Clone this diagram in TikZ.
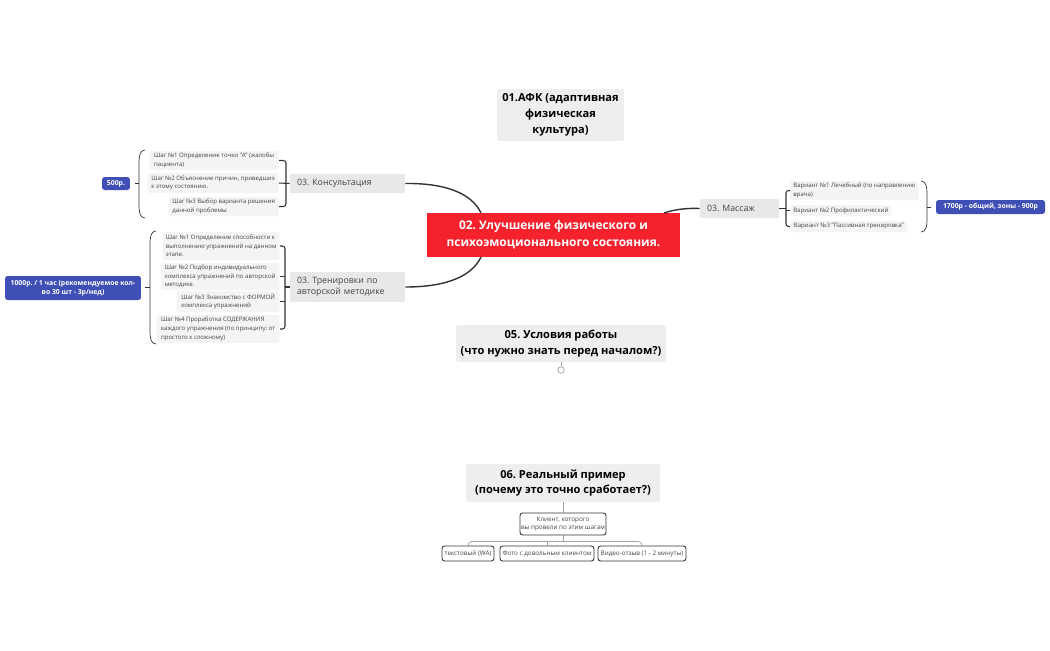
\documentclass[tikz,border=0pt]{standalone}
\usepackage{fontspec}
\setmainfont{Open Sans}
\frenchspacing
\definecolor{topicgray}{HTML}{EEEEEE}
\definecolor{branchgray}{HTML}{E8E8E8}
\definecolor{itemgray}{HTML}{F4F4F4}
\definecolor{mainred}{HTML}{F5222D}
\definecolor{priceblue}{HTML}{3F4FB5}
\definecolor{linedark}{HTML}{333333}
\definecolor{linegray}{HTML}{A0A0A0}
\definecolor{textgray}{HTML}{444444}
\tikzset{
  topic/.style={fill=topicgray, rounded corners=1pt, align=center, inner sep=0pt,
    font=\bfseries\fontsize{6.3}{9}\selectfont},
  central/.style={fill=mainred, text=white, align=center, inner sep=0pt,
    font=\bfseries\fontsize{6.8}{9.6}\selectfont},
  branch/.style={fill=branchgray, align=left, inner xsep=0.14cm, inner ysep=0pt,
    text=textgray, font=\fontsize{5}{6.2}\selectfont},
  stepitem/.style={fill=itemgray, rounded corners=1pt, align=left, inner xsep=0.05cm,
    inner ysep=0pt, text=textgray, font=\fontsize{3.45}{4.9}\selectfont},
  price/.style={fill=priceblue, text=white, rounded corners=1.5pt, align=center,
    inner sep=0pt, font=\bfseries\fontsize{3.9}{5.1}\selectfont},
  leaf/.style={draw=linedark, fill=white, rounded corners=1.5pt, align=center,
    inner sep=0pt, line width=0.5pt, text=textgray, font=\fontsize{3.6}{5}\selectfont},
  link/.style={draw=linedark, line width=0.8pt},
  bracket/.style={draw=linedark, line width=0.6pt, rounded corners=1.5pt},
  brace/.style={draw=linedark, line width=0.4pt},
  thin/.style={draw=linegray, line width=0.4pt, rounded corners=2pt}
}
\begin{document}
\begin{tikzpicture}[x=0.02cm,y=-0.02cm]
    \useasboundingbox (0,0) rectangle (1050,650);

    % Topics
    \node[topic, minimum width=2.54cm, minimum height=1.04cm] (afk) at (560.5,115)
        {01.АФК (адаптивная\\физическая\\культура)};
    \node[central, minimum width=5.06cm, minimum height=0.88cm] (main) at (553.5,235)
        {02. Улучшение физического и\\психоэмоционального состояния.};
    \node[topic, minimum width=4.2cm, minimum height=0.74cm] (usl) at (561,343.5)
        {05. Условия работы\\(что нужно знать перед началом?)};
    \node[topic, minimum width=3.88cm, minimum height=0.76cm] (real) at (563,483)
        {06. Реальный пример\\(почему это точно сработает?)};

    % Collapse mark
    \node[circle, draw=linegray, line width=0.4pt, minimum size=0.13cm, inner sep=0pt] (fold) at (561,370) {};
    \draw[thin] (usl.south) -- (fold.north);

    % Branches
    \node[branch, text width=2.02cm, minimum height=0.38cm] (kons) at (347.5,183.5)
        {03. Консультация};
    \node[branch, text width=2.02cm, minimum height=0.60cm] (trening) at (347.5,287)
        {03. Тренировки по\\авторской методике};
    \node[branch, text width=1.30cm, minimum height=0.38cm] (massage) at (739.5,208.5)
        {03. Массаж};

    \coordinate (mtop) at (481,213);
    \coordinate (mbot) at (481,257);
    \coordinate (mright) at (664,213);
    \draw[link] (kons.east) .. controls (447,183) and (472,194) .. (mtop);
    \draw[link] (trening.east) .. controls (447,287) and (472,276) .. (mbot);
    \draw[link] (mright) .. controls (676,209) and (688,208) .. (massage.west);

    % Consultation steps
    \node[stepitem, anchor=east, minimum width=2.58cm, minimum height=0.38cm] (k1) at (279,160.5)
        {Шаг №1 Определение точки "А" (жалобы\\пациента)};
    \node[stepitem, anchor=east, minimum width=2.62cm, minimum height=0.40cm] (k2) at (279,183)
        {Шаг №2 Объяснение причин, приведших\\к этому состоянию.};
    \node[stepitem, anchor=east, minimum width=2.20cm, minimum height=0.38cm] (k3) at (279,206.5)
        {Шаг №3 Выбор варианта решения\\данной проблемы};
    \coordinate (kjoin) at (286,183);
    \draw[bracket] (k1.east) -| (kjoin) |- (k3.east);
    \draw[bracket] (k2.east) -- (kons.west);

    \node[price, minimum width=0.56cm, minimum height=0.26cm] (p500) at (116,183.5) {500р.};
    \coordinate (kbrace) at (135,183);
    \draw[brace] (145,150) to[out=180,in=90] (139,162) -- (139,205) to[out=-90,in=180] (145,218);
    \draw[brace] (139,183) -- (kbrace);

    % Training steps
    \node[stepitem, anchor=east, minimum width=2.34cm, minimum height=0.56cm] (t1) at (280,246)
        {Шаг №1 Определение способности к\\выполнению упражнений на данном\\этапе.};
    \node[stepitem, anchor=east, minimum width=2.38cm, minimum height=0.54cm] (t2) at (280,276.5)
        {Шаг №2 Подбор индивидуального\\комплекса упражнений по авторской\\методике.};
    \node[stepitem, anchor=east, minimum width=2.06cm, minimum height=0.42cm] (t3) at (280,301.5)
        {Шаг №3 Знакомство с ФОРМОЙ\\комплекса упражнений};
    \node[stepitem, anchor=east, minimum width=2.46cm, minimum height=0.56cm] (t4) at (280,329)
        {Шаг №4 Проработка СОДЕРЖАНИЯ\\каждого упражнения (по принципу: от\\простого к сложному)};
    \coordinate (tjoin) at (285,287);
    \draw[bracket] (t1.east) -| (tjoin) |- (t4.east);
    \draw[bracket] (t2.east) -- (t2.east -| tjoin);
    \draw[bracket] (t3.east) -- (t3.east -| tjoin);
    \draw[bracket] (tjoin) -- (trening.west);

    \node[price, minimum width=2.72cm, minimum height=0.48cm] (p1000) at (73,288)
        {1000р. / 1 час (рекомендуемое кол-\\во 30 шт - 3р/нед)};
    \coordinate (tbrace) at (145,287);
    \draw[brace] (156,231) to[out=180,in=90] (150,243) -- (150,332) to[out=-90,in=180] (156,344);
    \draw[brace] (150,287) -- (tbrace);

    % Massage variants
    \node[stepitem, anchor=west, minimum width=2.56cm, minimum height=0.38cm] (m1) at (790,190.5)
        {Вариант №1 Лечебный (по направлению\\врача)};
    \node[stepitem, anchor=west, minimum width=2.02cm, minimum height=0.22cm] (m2) at (790,210.5)
        {Вариант №2 Профилактический};
    \node[stepitem, anchor=west, minimum width=2.34cm, minimum height=0.22cm] (m3) at (790,226.5)
        {Вариант №3 "Пассивная тренировка"};
    \coordinate (mjoin) at (786,208.5);
    \draw[bracket] (m1.west) -| (mjoin) |- (m3.west);
    \draw[bracket] (m2.west) -- (m2.west -| mjoin);
    \draw[bracket] (massage.east) -- (mjoin);

    \node[price, minimum width=2.18cm, minimum height=0.28cm] (p1700) at (990.5,207)
        {1700р - общий, зоны - 900р};
    \coordinate (mbrace) at (931,207);
    \draw[brace] (921,181) to[out=0,in=90] (927,193) -- (927,220) to[out=-90,in=0] (921,232);
    \draw[brace] (927,207) -- (mbrace);

    % Example client
    \node[leaf, minimum width=1.72cm, minimum height=0.44cm] (client) at (563,524)
        {Клиент, которого\\вы провели по этим шагам};
    \node[leaf, minimum width=1.04cm, minimum height=0.30cm] (wa) at (468,553.5)
        {текстовый (WA)};
    \node[leaf, minimum width=1.88cm, minimum height=0.30cm] (photo) at (547,553.5)
        {Фото с довольным клиентом};
    \node[leaf, minimum width=1.76cm, minimum height=0.30cm] (video) at (642,553.5)
        {Видео-отзыв (1 - 2 минуты)};
    \coordinate (split) at (563,541.5);
    \draw[thin] (real.south) -- (client.north);
    \draw[thin] (client.south) -- (split);
    \draw[thin] (wa.north) |- (split) -| (video.north);
    \draw[thin] (photo.north) -- (photo.north |- split);
\end{tikzpicture}
\end{document}
